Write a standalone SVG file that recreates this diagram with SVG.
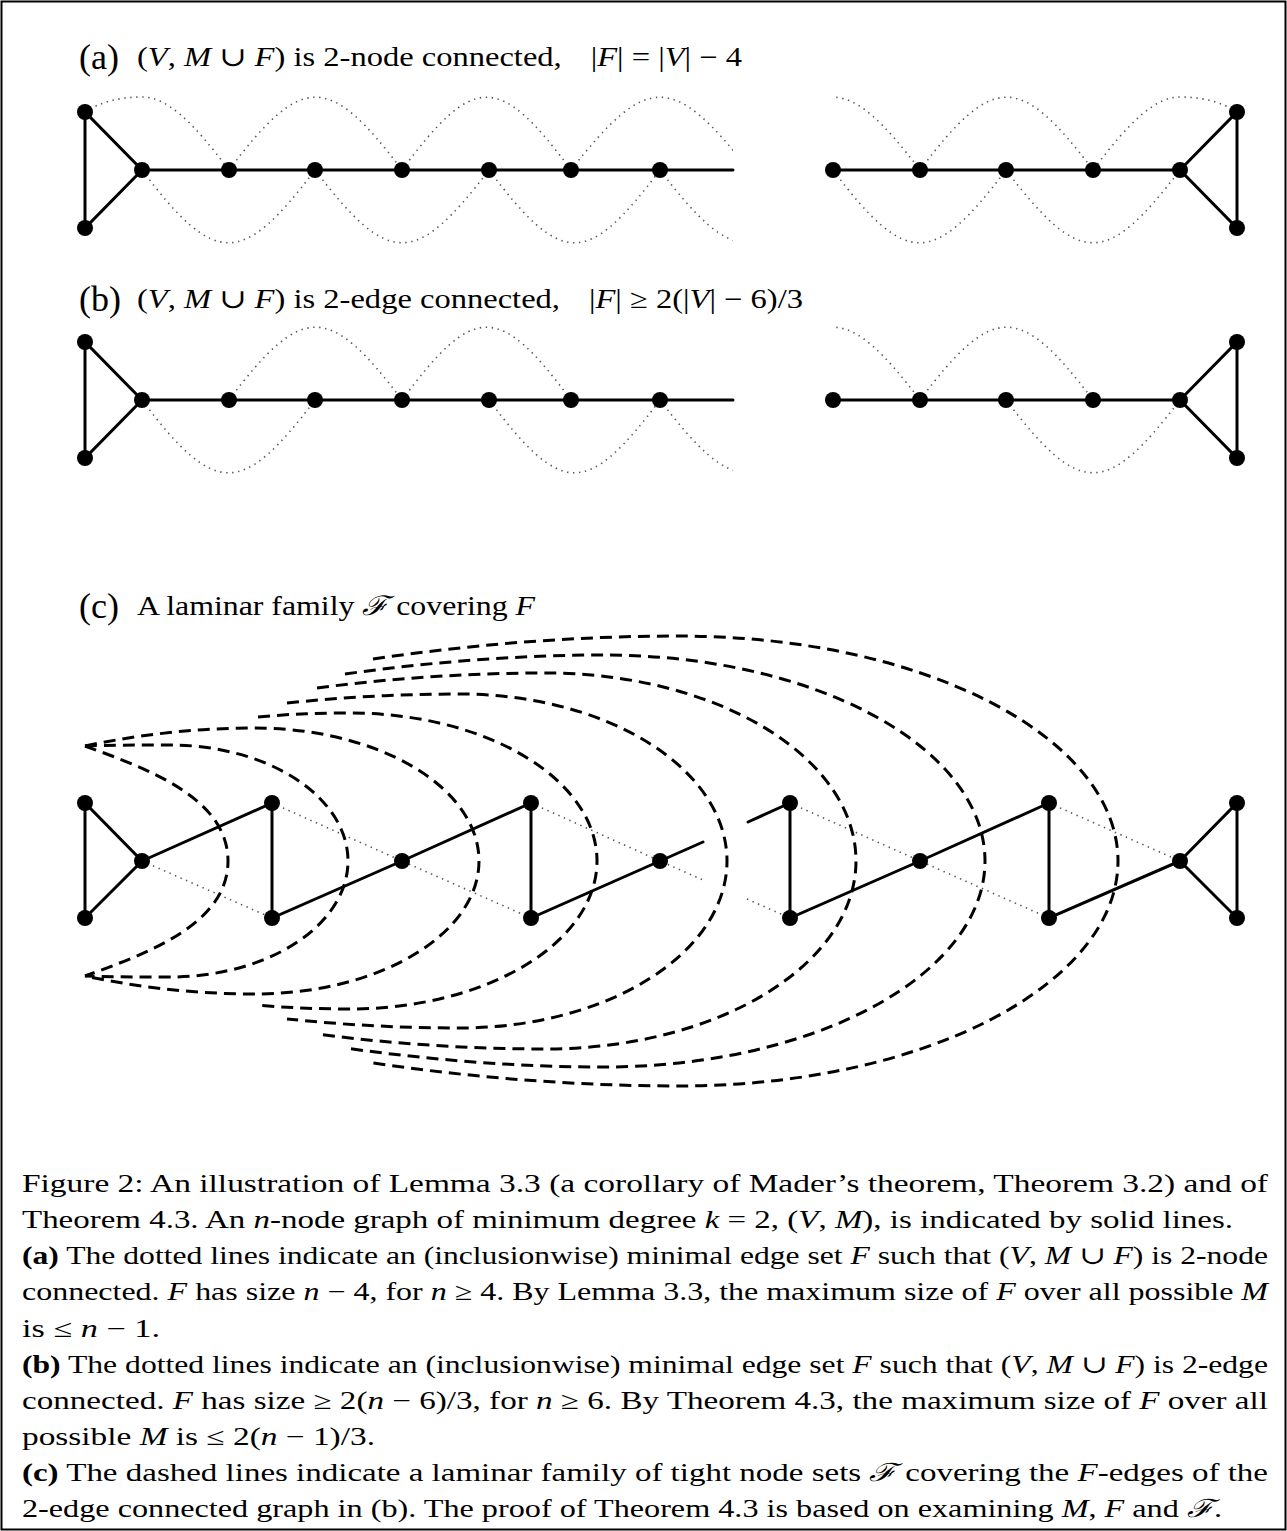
<svg xmlns="http://www.w3.org/2000/svg" width="1287" height="1531" viewBox="0 0 1287 1531">
<style>
  text { font-family: "Liberation Serif", "DejaVu Serif", serif; fill: #000; }
  .t { font-size: 27px; }
  .big { font-size: 36px; }
  .cap { font-size: 25px; }
  .i { font-style: italic; }
  .b { font-weight: bold; }
  .n { fill: #000; }
  .s { stroke: #000; stroke-width: 3; fill: none; stroke-linecap: round; }
  .d { stroke: #555; stroke-width: 1.6; fill: none; stroke-dasharray: 1.4 4.6; }
  .ds { stroke: #000; stroke-width: 3; fill: none; stroke-dasharray: 12 7; }
</style>
<defs>
  <clipPath id="cl"><rect x="0" y="0" width="733" height="1531"/></clipPath>
  <clipPath id="cr"><rect x="835" y="0" width="452" height="1531"/></clipPath>
</defs>
<rect x="1.5" y="1.5" width="1284" height="1528" fill="#fff" stroke="#000" stroke-width="2"/>

<!-- titles -->
<g id="title-a">
  <text class="big" x="79" y="69">(a)</text>
  <text class="t" x="137" y="66" textLength="605" lengthAdjust="spacingAndGlyphs">(<tspan class="i">V</tspan>, <tspan class="i">M</tspan> ∪ <tspan class="i">F</tspan>) is 2-node connected,<tspan dx="24">|</tspan><tspan class="i">F</tspan>| = |<tspan class="i">V</tspan>| − 4</text>
</g>
<g id="title-b">
  <text class="big" x="79" y="311">(b)</text>
  <text class="t" x="137" y="308" textLength="666" lengthAdjust="spacingAndGlyphs">(<tspan class="i">V</tspan>, <tspan class="i">M</tspan> ∪ <tspan class="i">F</tspan>) is 2-edge connected,<tspan dx="24">|</tspan><tspan class="i">F</tspan>| ≥ 2(|<tspan class="i">V</tspan>| − 6)/3</text>
</g>
<g id="title-c">
  <text class="big" x="79" y="618">(c)</text>
  <text class="t" x="137" y="615" textLength="398" lengthAdjust="spacingAndGlyphs">A laminar family <tspan class="i">ℱ</tspan> covering <tspan class="i">F</tspan></text>
</g>

<g id="connectors">
  <!-- (a) solid -->
  <path class="s" d="M85,112 L85,228 L142,170 Z M142,170 L733,170 M833,170 L1180,170 M1180,170 L1237,112 L1237,228 Z"/>
  <!-- (a) dotted -->
  <g clip-path="url(#cl)">
    <path class="d" d="M85,112 C100,102 120,97 142,97 C167,97 192,121 229,170"/>
    <path class="d" d="M229,170 C302,73 329,73 402,170"/>
    <path class="d" d="M402,170 C474,73 499,73 571,170"/>
    <path class="d" d="M571,170 C647,73 673,73 749,170"/>
    <path class="d" d="M142,170 C215,267 242,267 315,170"/>
    <path class="d" d="M315,170 C389,267 415,267 489,170"/>
    <path class="d" d="M489,170 C562,267 587,267 660,170"/>
    <path class="d" d="M660,170 C734,267 760,267 834,170"/>
  </g>
  <g clip-path="url(#cr)">
    <path class="d" d="M1237,112 C1222,102 1202,97 1180,97 C1155,97 1130,121 1093,170"/>
    <path class="d" d="M920,170 C993,73 1020,73 1093,170"/>
    <path class="d" d="M746,170 C820,73 846,73 920,170"/>
    <path class="d" d="M1006,170 C1080,267 1106,267 1180,170"/>
    <path class="d" d="M833,170 C906,267 933,267 1006,170"/>
  </g>

  <!-- (b) solid -->
  <path class="s" d="M85,342 L85,458 L142,400 Z M142,400 L733,400 M833,400 L1180,400 M1180,400 L1237,342 L1237,458 Z"/>
  <!-- (b) dotted -->
  <g clip-path="url(#cl)">
    <path class="d" d="M229,400 C302,303 329,303 402,400"/>
    <path class="d" d="M402,400 C474,303 499,303 571,400"/>
    <path class="d" d="M142,400 C215,497 242,497 315,400"/>
    <path class="d" d="M489,400 C562,497 587,497 660,400"/>
    <path class="d" d="M660,400 C734,497 760,497 834,400"/>
  </g>
  <g clip-path="url(#cr)">
    <path class="d" d="M746,400 C820,303 846,303 920,400"/>
    <path class="d" d="M920,400 C993,303 1020,303 1093,400"/>
    <path class="d" d="M1006,400 C1080,497 1106,497 1180,400"/>
  </g>

  <!-- (c) solid -->
  <path class="s" d="M85,803 L85,918 L142,861 Z M142,861 L272,803 L272,918 L402,861 L531,803 L531,918 L660,861 L703,842 M748,822 L790,803 L790,918 L920,861 L1049,803 L1049,918 L1180,861 M1180,861 L1237,803 L1237,918 Z"/>
  <!-- (c) dotted -->
  <path class="d" d="M142,861 L272,918 M272,803 L402,861 L531,918 M531,803 L660,861 L703,880 M747,899 L790,918 M790,803 L920,861 L1049,918 M1049,803 L1180,861"/>
  <!-- (c) dashed laminar family -->
  <path class="ds" d="M85,746 C145,768 228,797 228,861 C228,925 145,954 85,976"/>
  <path class="ds" d="M85,746 C110,745 140,745 170,745 A178,116 0 0 1 348,861 A178,116 0 0 1 170,977 C140,977 110,977 85,976"/>
  <path class="ds" d="M85,746 C142,734 198,728 255,728 A224,133 0 0 1 479,861 A224,133 0 0 1 255,994 C198,994 142,988 85,976"/>
  <path class="ds" d="M258,717 C289,714 319,713 350,713 A247,148 0 0 1 597,861 A247,148 0 0 1 350,1009 C319,1009 289,1008 258,1005"/>
  <path class="ds" d="M287,703 C345,697 402,694 460,694 A267,167 0 0 1 727,861 A267,167 0 0 1 460,1028 C402,1028 345,1025 287,1019"/>
  <path class="ds" d="M317,688 C393,678 470,673 546,673 A310,188 0 0 1 856,861 A310,188 0 0 1 546,1049 C470,1049 393,1044 317,1034"/>
  <path class="ds" d="M345,674 C431,662 518,655 604,655 A381,206 0 0 1 985,861 A381,206 0 0 1 604,1067 C518,1067 431,1060 345,1048"/>
  <path class="ds" d="M373,659 C475,644 578,636 680,636 A438,225 0 0 1 1118,861 A438,225 0 0 1 680,1086 C578,1086 475,1078 373,1063"/>
</g>

<!-- nodes (a) -->
<g id="a1"><circle class="n" cx="85" cy="112" r="8"/></g>
<g id="a2"><circle class="n" cx="85" cy="228" r="8"/></g>
<g id="a3"><circle class="n" cx="142" cy="170" r="8"/></g>
<g id="a4"><circle class="n" cx="229" cy="170" r="8"/></g>
<g id="a5"><circle class="n" cx="315" cy="170" r="8"/></g>
<g id="a6"><circle class="n" cx="402" cy="170" r="8"/></g>
<g id="a7"><circle class="n" cx="489" cy="170" r="8"/></g>
<g id="a8"><circle class="n" cx="571" cy="170" r="8"/></g>
<g id="a9"><circle class="n" cx="660" cy="170" r="8"/></g>
<g id="a10"><circle class="n" cx="833" cy="170" r="8"/></g>
<g id="a11"><circle class="n" cx="920" cy="170" r="8"/></g>
<g id="a12"><circle class="n" cx="1006" cy="170" r="8"/></g>
<g id="a13"><circle class="n" cx="1093" cy="170" r="8"/></g>
<g id="a14"><circle class="n" cx="1180" cy="170" r="8"/></g>
<g id="a15"><circle class="n" cx="1237" cy="112" r="8"/></g>
<g id="a16"><circle class="n" cx="1237" cy="228" r="8"/></g>
<!-- nodes (b) -->
<g id="b1"><circle class="n" cx="85" cy="342" r="8"/></g>
<g id="b2"><circle class="n" cx="85" cy="458" r="8"/></g>
<g id="b3"><circle class="n" cx="142" cy="400" r="8"/></g>
<g id="b4"><circle class="n" cx="229" cy="400" r="8"/></g>
<g id="b5"><circle class="n" cx="315" cy="400" r="8"/></g>
<g id="b6"><circle class="n" cx="402" cy="400" r="8"/></g>
<g id="b7"><circle class="n" cx="489" cy="400" r="8"/></g>
<g id="b8"><circle class="n" cx="571" cy="400" r="8"/></g>
<g id="b9"><circle class="n" cx="660" cy="400" r="8"/></g>
<g id="b10"><circle class="n" cx="833" cy="400" r="8"/></g>
<g id="b11"><circle class="n" cx="920" cy="400" r="8"/></g>
<g id="b12"><circle class="n" cx="1006" cy="400" r="8"/></g>
<g id="b13"><circle class="n" cx="1093" cy="400" r="8"/></g>
<g id="b14"><circle class="n" cx="1180" cy="400" r="8"/></g>
<g id="b15"><circle class="n" cx="1237" cy="342" r="8"/></g>
<g id="b16"><circle class="n" cx="1237" cy="458" r="8"/></g>
<!-- nodes (c) -->
<g id="c1"><circle class="n" cx="85" cy="803" r="8"/></g>
<g id="c2"><circle class="n" cx="85" cy="918" r="8"/></g>
<g id="c3"><circle class="n" cx="142" cy="861" r="8"/></g>
<g id="c4"><circle class="n" cx="272" cy="803" r="8"/></g>
<g id="c5"><circle class="n" cx="272" cy="918" r="8"/></g>
<g id="c6"><circle class="n" cx="402" cy="861" r="8"/></g>
<g id="c7"><circle class="n" cx="531" cy="803" r="8"/></g>
<g id="c8"><circle class="n" cx="531" cy="918" r="8"/></g>
<g id="c9"><circle class="n" cx="660" cy="861" r="8"/></g>
<g id="c10"><circle class="n" cx="790" cy="803" r="8"/></g>
<g id="c11"><circle class="n" cx="790" cy="918" r="8"/></g>
<g id="c12"><circle class="n" cx="920" cy="861" r="8"/></g>
<g id="c13"><circle class="n" cx="1049" cy="803" r="8"/></g>
<g id="c14"><circle class="n" cx="1049" cy="918" r="8"/></g>
<g id="c15"><circle class="n" cx="1180" cy="861" r="8"/></g>
<g id="c16"><circle class="n" cx="1237" cy="803" r="8"/></g>
<g id="c17"><circle class="n" cx="1237" cy="918" r="8"/></g>

<!-- caption -->
<g id="caption" class="cap">
  <text class="cap" x="22" y="1192" textLength="1246" lengthAdjust="spacingAndGlyphs">Figure 2: An illustration of Lemma 3.3 (a corollary of Mader’s theorem, Theorem 3.2) and of</text>
  <text class="cap" x="22" y="1228" textLength="1211" lengthAdjust="spacingAndGlyphs">Theorem 4.3. An <tspan class="i">n</tspan>-node graph of minimum degree <tspan class="i">k</tspan> = 2, (<tspan class="i">V</tspan>, <tspan class="i">M</tspan>), is indicated by solid lines.</text>
  <text class="cap" x="22" y="1264" textLength="1246" lengthAdjust="spacingAndGlyphs"><tspan class="b">(a)</tspan> The dotted lines indicate an (inclusionwise) minimal edge set <tspan class="i">F</tspan> such that (<tspan class="i">V</tspan>, <tspan class="i">M</tspan> ∪ <tspan class="i">F</tspan>) is 2-node</text>
  <text class="cap" x="22" y="1300" textLength="1246" lengthAdjust="spacingAndGlyphs">connected. <tspan class="i">F</tspan> has size <tspan class="i">n</tspan> − 4, for <tspan class="i">n</tspan> ≥ 4. By Lemma 3.3, the maximum size of <tspan class="i">F</tspan> over all possible <tspan class="i">M</tspan></text>
  <text class="cap" x="22" y="1337" textLength="138" lengthAdjust="spacingAndGlyphs">is ≤ <tspan class="i">n</tspan> − 1.</text>
  <text class="cap" x="22" y="1373" textLength="1246" lengthAdjust="spacingAndGlyphs"><tspan class="b">(b)</tspan> The dotted lines indicate an (inclusionwise) minimal edge set <tspan class="i">F</tspan> such that (<tspan class="i">V</tspan>, <tspan class="i">M</tspan> ∪ <tspan class="i">F</tspan>) is 2-edge</text>
  <text class="cap" x="22" y="1409" textLength="1246" lengthAdjust="spacingAndGlyphs">connected. <tspan class="i">F</tspan> has size ≥ 2(<tspan class="i">n</tspan> − 6)/3, for <tspan class="i">n</tspan> ≥ 6. By Theorem 4.3, the maximum size of <tspan class="i">F</tspan> over all</text>
  <text class="cap" x="22" y="1445" textLength="353" lengthAdjust="spacingAndGlyphs">possible <tspan class="i">M</tspan> is ≤ 2(<tspan class="i">n</tspan> − 1)/3.</text>
  <text class="cap" x="22" y="1481" textLength="1246" lengthAdjust="spacingAndGlyphs"><tspan class="b">(c)</tspan> The dashed lines indicate a laminar family of tight node sets <tspan class="i">ℱ</tspan> covering the <tspan class="i">F</tspan>-edges of the</text>
  <text class="cap" x="22" y="1517" textLength="1200" lengthAdjust="spacingAndGlyphs">2-edge connected graph in (b). The proof of Theorem 4.3 is based on examining <tspan class="i">M</tspan>, <tspan class="i">F</tspan> and <tspan class="i">ℱ</tspan>.</text>
</g>
</svg>
